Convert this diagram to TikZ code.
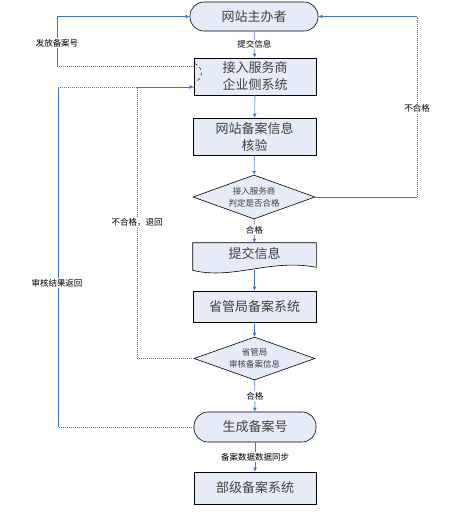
\documentclass[tikz,border=0pt]{standalone}
\usepackage{fontspec}
\setmainfont{Noto Sans CJK SC}
\usetikzlibrary{shapes.geometric,arrows.meta,calc}
\definecolor{boxfill}{RGB}{230,236,247}
\definecolor{lnblue}{RGB}{68,114,196}
\definecolor{txt}{RGB}{64,64,64}
\tikzset{
  x=1pt,y=1pt,
  box/.style={draw=black, line width=0.6pt, fill=boxfill, minimum width=122pt, minimum height=37pt,
    text=txt, font=\fontsize{13}{17}\selectfont, align=center, inner sep=0pt},
  term/.style={box, rounded corners=14pt, minimum height=29pt},
  dia/.style={diamond, draw=black, line width=0.6pt, fill=boxfill, minimum width=122pt, minimum height=44pt,
    aspect=2.8, inner sep=0pt, text=txt, font=\fontsize{8.5}{12}\selectfont, align=center},
  lbl/.style={font=\fontsize{8.5}{10}\selectfont, text=black, fill=white, inner sep=1pt},
  dotpat/.style={dash pattern=on 1.2pt off 0.8pt},
  flow/.style={draw=lnblue, line width=0.9pt, dotpat, -{Latex[length=4pt,width=4pt]}},
  sol/.style={draw=lnblue, line width=0.8pt},
  dot/.style={draw=lnblue, line width=0.9pt, dotpat},
  tip/.style={-{Latex[length=4pt,width=4pt]}}
}
\begin{document}
\begin{tikzpicture}
\useasboundingbox (0,0) rectangle (467,-515);
% nodes
\node[term, minimum width=128pt] (n1) at (254,-16.5) {网站主办者};
\node[box] (n2) at (255,-76.5) {接入服务商\\企业侧系统};
\node[box, minimum width=123pt] (n3) at (254.5,-136.5) {网站备案信息\\核验};
\node[dia] (n4) at (254,-197) {接入服务商\\判定是否合格};
\node[box, draw=none, fill=none, minimum width=123pt, minimum height=27pt] (n5) at (254.5,-256.5) {};
\fill[boxfill] (n5.north west) -- (n5.north east) -- ($(n5.south east)+(0,3)$)
  .. controls +(-46,9) and +(40,-10) .. ($(n5.south west)+(0,0)$) -- cycle;
\draw[black, line width=0.6pt] (n5.north west) -- (n5.north east) -- ($(n5.south east)+(0,3)$)
  .. controls +(-46,9) and +(40,-10) .. ($(n5.south west)+(0,0)$) -- cycle;
\node[text=txt, font=\fontsize{13}{17}\selectfont] at ($(n5.center)+(0,3)$) {提交信息};
\node[box, minimum width=123pt, minimum height=31pt] (n6) at (254.5,-306.5) {省管局备案系统};
\node[dia, minimum width=121pt, minimum height=43pt] (n7) at (254.5,-358.5) {省管局\\审核备案信息};
\node[term, minimum height=30pt] (n8) at (255,-427) {生成备案号};
\node[box, minimum height=32pt] (n9) at (255,-488) {部级备案系统};
% main flow
\draw[flow] (n1) -- node[lbl]{提交信息} (n2);
\draw[flow] (n2) -- (n3);
\draw[flow] (n3) -- (n4);
\draw[flow] (n4) -- node[lbl, pos=0.45]{合格} (n5);
\draw[flow] (n5.south) -- (n6);
\draw[flow] (n6) -- (n7);
\draw[flow] (n7) -- node[lbl]{合格} (n8);
\draw[flow] (n8) -- node[lbl]{备案数据数据同步} (n9);
% coordinates for loops
\coordinate (pa) at ($(n2.west)+(0,10.5)$);
\coordinate (pb) at ($(n2.west)+(0,-10.5)$);
\coordinate (xa) at (57,0);
\coordinate (xr) at (417,0);
\coordinate (xn) at (137,0);
\coordinate (xs) at (58,0);
% 发放备案号
\draw[dot] (pa) -- (xa |- pa);
\draw[sol] (xa |- pa) -- (xa |- n1.west);
\draw[sol, tip] (xa |- n1.west) -- (n1.west);
\node[lbl] at (57,-43) {发放备案号};
% 不合格 (right)
\draw[sol] (n4.east) -- (xr |- n4.east);
\draw[dot] (xr |- n4.east) -- (xr |- n1.east);
\draw[sol, tip] (xr |- n1.east) -- (n1.east);
\node[lbl] at (417,-108) {不合格};
% 不合格，退回
\draw[dot] (n7.west) -| (xn |- pb) -- (pb);
\node[lbl] at (137,-222) {不合格，退回};
% 审核结果返回
\draw[dot] (n8.west) -- (xs |- n8.west);
\draw[sol] (xs |- n8.west) -- (xs |- pb);
\draw[dot, tip] (xs |- pb) -- (pb);
\node[lbl] at (57,-283) {审核结果返回};
% small jump arc
\draw[black, dashed, line width=0.5pt] ($(n2.west)+(1,13)$) .. controls +(9,-4) and +(9,4) .. ($(n2.west)+(1,-6)$);
\end{tikzpicture}
\end{document}
